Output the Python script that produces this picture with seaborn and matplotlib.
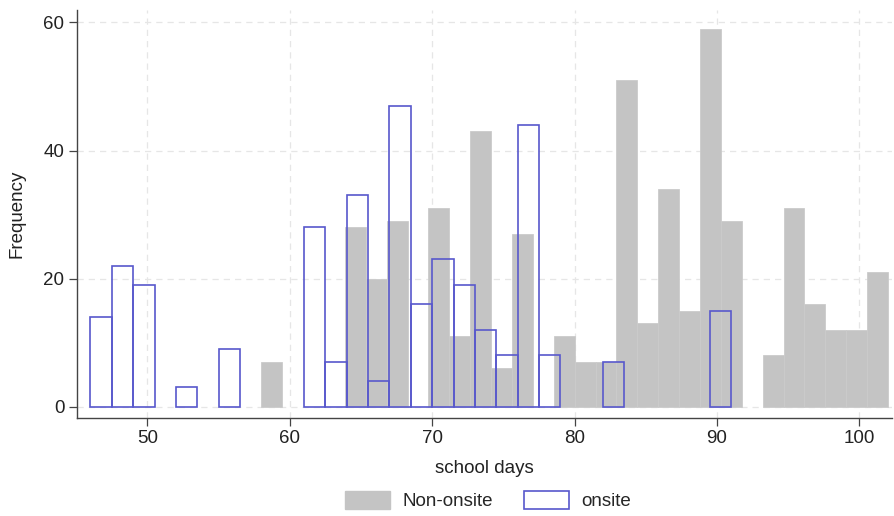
import numpy as np
import pandas as pd
import matplotlib.pyplot as plt
import seaborn as sns
from matplotlib.patches import Patch

sns.set_theme(style="ticks")
plt.rcParams['font.family'] = ['Liberation Sans', 'DejaVu Sans']

# onsite: 30 bins from 46 to 91 (width 1.5)
onsite_start, onsite_end, onsite_nbins = 46, 91, 30
onsite_counts = [14, 22, 19, 0, 3, 0, 9, 0, 0, 0,
                 28, 7, 33, 4, 47, 16, 23, 19, 12, 8,
                 44, 8, 0, 0, 7, 0, 0, 0, 0, 15]

# non-onsite: 30 bins from 58 to 102
non_start, non_end, non_nbins = 58, 102, 30
non_counts = [7, 0, 0, 0, 28, 20, 29, 0, 31, 11,
              43, 6, 27, 0, 11, 7, 7, 51, 13, 34,
              15, 59, 29, 0, 8, 31, 16, 12, 12, 21]

def to_frame(start, end, n, counts):
    edges = np.linspace(start, end, n + 1)
    centers = (edges[:-1] + edges[1:]) / 2
    return list(edges), pd.DataFrame({"days": centers, "n": counts})

non_edges, df_non = to_frame(non_start, non_end, non_nbins, non_counts)
on_edges, df_on = to_frame(onsite_start, onsite_end, onsite_nbins, onsite_counts)

grey = "#c4c4c4"
blue = "#5858cc"
fs = 13.5

fig = plt.figure(figsize=(8.94, 5.16), dpi=100)
ax = fig.add_axes([0.086, 0.19, 0.912, 0.79])

sns.histplot(data=df_non, x="days", weights="n", bins=non_edges, ax=ax,
             color=grey, alpha=1, edgecolor="#cbcbcb", linewidth=0.6)
n_grey = len(ax.patches)
sns.histplot(data=df_on, x="days", weights="n", bins=on_edges, ax=ax,
             color=blue, fill=False, linewidth=1.2)
for p in ax.patches:
    if p.get_height() == 0:
        p.set_visible(False)
for p in ax.patches[n_grey:]:
    p.set_edgecolor(blue)
    p.set_facecolor("none")

ax.set_xlim(45.05, 102.3)
ax.set_ylim(-1.76, 61.9)
ax.set_xticks([50, 60, 70, 80, 90, 100])
ax.set_yticks([0, 20, 40, 60])
ax.grid(True, color="#e6e6e6", linestyle=(0, (5, 4)), linewidth=0.9)
ax.set_axisbelow(True)
sns.despine(ax=ax)
for s in ["left", "bottom"]:
    ax.spines[s].set_color("#444444")
    ax.spines[s].set_linewidth(1.0)
ax.tick_params(axis="both", colors="#444444", labelcolor="#222222",
               labelsize=fs, length=6, width=0.9, pad=3)
ax.set_xlabel("school days", fontsize=fs, color="#222222", labelpad=9)
ax.set_ylabel("Frequency", fontsize=fs, color="#222222", labelpad=13)

handles = [Patch(facecolor=grey, edgecolor=grey, label="Non-onsite"),
           Patch(facecolor="white", edgecolor=blue, linewidth=1.2, label="onsite")]
fig.legend(handles=handles, loc="lower center", bbox_to_anchor=(0.546, -0.022),
           ncol=2, frameon=False, fontsize=fs, handlelength=2.4,
           handleheight=1.1, columnspacing=1.7, handletextpad=0.65)

fig.savefig("out.png", dpi=100)
